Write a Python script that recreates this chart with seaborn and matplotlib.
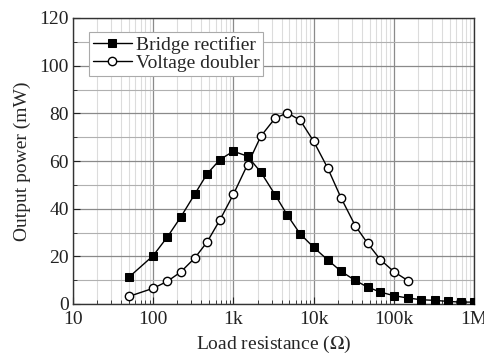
import numpy as np
import pandas as pd
import matplotlib
matplotlib.use("Agg")
import matplotlib.pyplot as plt
import matplotlib.ticker as mticker
import seaborn as sns

# Load resistances (ohm), E-series steps
r_bridge = [50, 100, 150, 220, 330, 470, 680, 1e3, 1.5e3, 2.2e3, 3.3e3, 4.7e3,
            6.8e3, 10e3, 15e3, 22e3, 33e3, 47e3, 68e3, 100e3, 150e3, 220e3,
            330e3, 470e3, 680e3, 1e6]
p_bridge = [11.3, 20.3, 28.1, 36.4, 46.1, 54.6, 60.6, 64.1, 62.0, 55.3, 45.9,
            37.3, 29.4, 23.8, 18.5, 13.7, 9.9, 7.1, 5.0, 3.5, 2.5, 1.8, 1.5,
            1.1, 0.8, 0.8]

r_doubler = [50, 100, 150, 220, 330, 470, 680, 1e3, 1.5e3, 2.2e3, 3.3e3,
             4.7e3, 6.8e3, 10e3, 15e3, 22e3, 33e3, 47e3, 68e3, 100e3, 150e3]
p_doubler = [3.2, 6.6, 9.5, 13.4, 19.3, 26.0, 35.3, 46.0, 58.5, 70.4, 77.9,
             80.2, 77.1, 68.3, 57.0, 44.5, 32.9, 25.5, 18.6, 13.6, 9.8]

x_ticks = [10, 100, 1e3, 1e4, 1e5, 1e6]
x_ticklabels = ["10", "100", "1k", "10k", "100k", "1M"]

sns.set_style("white")
plt.rcParams["font.family"] = ["Liberation Serif", "DejaVu Serif"]
plt.rcParams["mathtext.fontset"] = "stix"

df_b = pd.DataFrame({"R": r_bridge, "P": p_bridge})
df_d = pd.DataFrame({"R": r_doubler, "P": p_doubler})

fig = plt.figure(figsize=(4.85, 3.54), dpi=100)
ax = fig.add_axes([73 / 485, 1 - 304 / 354, (474 - 73) / 485, (304 - 18) / 354])

sns.lineplot(data=df_b, x="R", y="P", ax=ax, color="black", lw=1.0,
             marker="s", markersize=5.5, markeredgecolor="black",
             markerfacecolor="black", label="Bridge rectifier", zorder=3)
sns.lineplot(data=df_d, x="R", y="P", ax=ax, color="black", lw=1.0,
             marker="o", markersize=6, markeredgecolor="black",
             markerfacecolor="white", markeredgewidth=1.0,
             label="Voltage doubler", zorder=3)

ax.set_xscale("log")
ax.set_xlim(10, 1e6)
ax.set_ylim(0, 120)
ax.set_xticks(x_ticks)
ax.set_xticklabels(x_ticklabels)
ax.xaxis.set_minor_locator(mticker.LogLocator(base=10, subs=np.arange(2, 10)))
ax.xaxis.set_minor_formatter(mticker.NullFormatter())
ax.set_yticks(np.arange(0, 121, 20))
ax.yaxis.set_minor_locator(mticker.MultipleLocator(10))

ax.grid(which="major", color="#8a8a8a", lw=0.9)
ax.grid(which="minor", axis="x", color="#dcdcdc", lw=0.8)
ax.grid(which="minor", axis="y", color="#b0b0b0", lw=0.8)
ax.set_axisbelow(True)

ax.tick_params(which="both", direction="in", labelsize=14, colors="#222222",
               top=False, right=False, bottom=True, left=True)
ax.tick_params(which="major", length=5, width=0.8, pad=3)
ax.tick_params(axis="x", which="major", pad=5)
ax.tick_params(which="minor", length=3, width=0.6)
for s in ax.spines.values():
    s.set_color("#333333")
    s.set_linewidth(1.0)

ax.set_xlabel("Load resistance ($\\Omega$)", fontsize=14, labelpad=4)
ax.set_ylabel("Output power (mW)", fontsize=14, labelpad=6)

leg = ax.legend(loc="upper left", bbox_to_anchor=(0.04, 0.95), fontsize=14,
                frameon=True, fancybox=False, edgecolor="#aaaaaa",
                framealpha=1, handlelength=2.0, handletextpad=0.2,
                borderpad=0.2, labelspacing=0.0, borderaxespad=0)
leg.get_frame().set_linewidth(0.8)

fig.savefig("out.png", dpi=100)
